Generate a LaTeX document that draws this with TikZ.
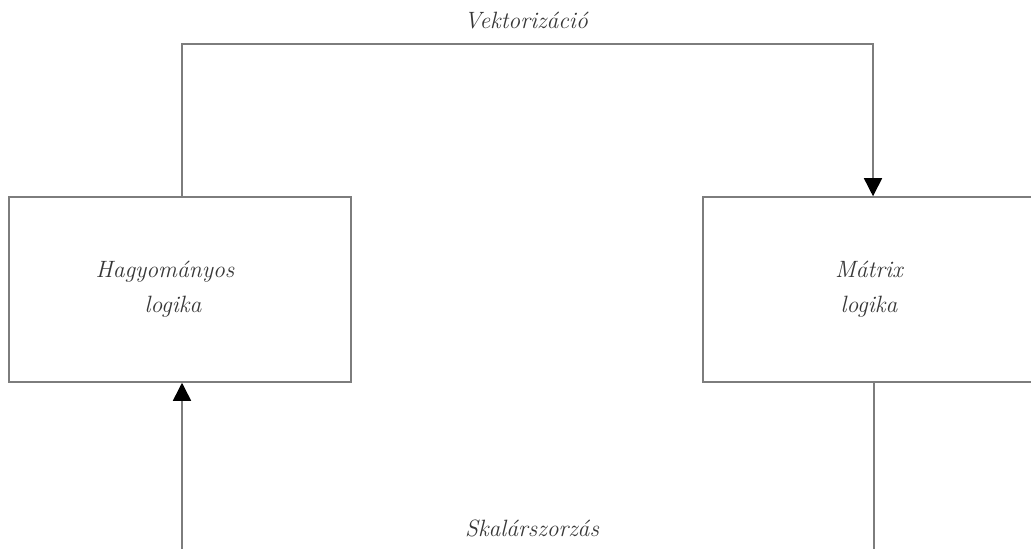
\documentclass[tikz,border=0pt]{standalone}
\usepackage{tikz}
\usetikzlibrary{arrows.meta, positioning}
\definecolor{linecolor}{RGB}{125,125,125}
\definecolor{textcolor}{RGB}{55,55,55}

\begin{document}
\begin{tikzpicture}[x=0.5pt, y=-0.5pt,
    box/.style={rectangle, draw=linecolor, line width=0.75pt, align=center, font=\fontsize{11.8}{17.5}\selectfont\itshape, text=textcolor, inner sep=0pt},
    arrow/.style={-{Triangle[length=9pt, width=9pt, color=black]}, draw=linecolor, line width=0.75pt},
    label/.style={font=\fontsize{11.8}{14}\selectfont\itshape, text=textcolor}
]
\useasboundingbox (0,0) rectangle (1031,549);
\node[box, minimum width=171pt, minimum height=92.5pt] (trad) at (180,289.5) {Hagyományos\hspace*{15pt}\\ logika\hspace*{7pt}};
\node[box, minimum width=166pt, minimum height=92.5pt] (matrix) at (869,289.5) {Mátrix\\ logika};
\node[label] (vekt) at (526,21) {Vektorizáció};
\node[label] (skal) at (532,528) {Skalárszorzás};

\coordinate (tl) at (182,44);
\coordinate (tr) at (873,44);
\coordinate (bl) at (182,551);
\coordinate (br) at (874,551);

\draw[arrow] (trad.north -| tl) -- (tl) -- (tr) -- (matrix.north -| tr);
\draw[arrow] (bl) -- (trad.south -| bl);
\draw[draw=linecolor, line width=0.75pt] (matrix.south -| br) -- (br);
\end{tikzpicture}
\end{document}
